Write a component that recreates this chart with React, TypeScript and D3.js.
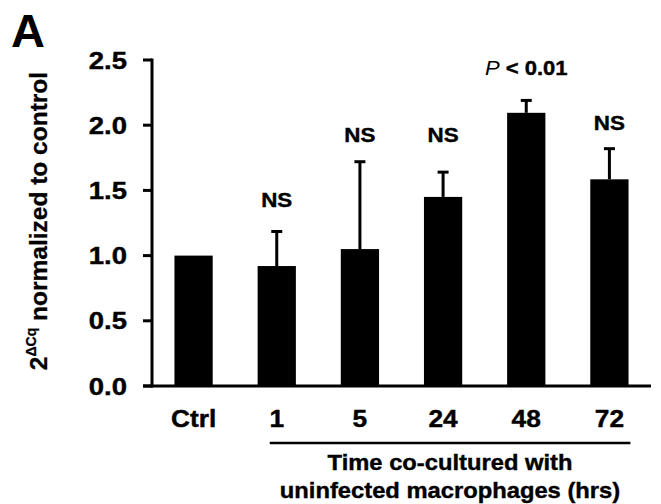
import React from 'react';
import * as d3 from 'd3';

const categories = ['Ctrl', '1', '5', '24', '48', '72'];
const means = [1.0, 0.92, 1.05, 1.45, 2.095, 1.585];
const errUp = [0, 0.265, 0.67, 0.19, 0.095, 0.235];
const sigLabels = ['', 'NS', 'NS', 'NS', 'P < 0.01', 'NS'];
const sigLevels = [0, 1.43, 1.93, 1.93, 2.44, 2.02];
const yTicks = [0, 0.5, 1.0, 1.5, 2.0, 2.5];

const W = 661;
const H = 504;
const FONT = 'Liberation Sans, Arial, Helvetica, sans-serif';

const StretchText = ({ x, y, size, sx = 1.12, anchor = 'middle', children }: any) => (
  <text
    transform={`translate(${x},${y}) scale(${sx},1)`}
    textAnchor={anchor}
    fontSize={size}
    fontWeight="bold"
    fontFamily={FONT}
    fill="#000"
    stroke="#000"
    strokeWidth={0.4}
  >
    {children}
  </text>
);

const App = () => {
  const x = d3.scaleBand<string>()
    .domain(categories)
    .range([152, 651])
    .paddingInner(0.54)
    .paddingOuter(0.27);
  const y = d3.scaleLinear().domain([0, 2.5]).range([386, 60]);
  const bw = x.bandwidth();
  const cx = (c: string) => (x(c) as number) + bw / 2;

  return (
    <svg width={W} height={H} style={{ position: 'absolute', left: 0, top: 0, background: '#fff' }}>
      {/* panel letter */}
      <text x={11} y={47} fontSize={47} fontWeight="bold" fontFamily={FONT}>A</text>

      {/* y axis title */}
      <text
        transform={`translate(47,221) rotate(-90)`}
        textAnchor="middle"
        fontSize={24.5}
        fontWeight="bold"
        fontFamily={FONT}
        stroke="#000"
        strokeWidth={0.3}
      >
        <tspan>2</tspan>
        <tspan fontSize={14} dy={-11}>ΔCq</tspan>
        <tspan dy={11}> normalized to control</tspan>
      </text>

      {/* bars */}
      {categories.map((c, i) => (
        <rect key={c} x={x(c)} y={y(means[i])} width={bw} height={y(0) - y(means[i])} fill="#000" />
      ))}

      {/* error bars (upper only) */}
      {categories.map((c, i) => errUp[i] > 0 && (
        <g key={'e' + c} stroke="#000" strokeWidth={3}>
          <line x1={cx(c)} x2={cx(c)} y1={y(means[i])} y2={y(means[i] + errUp[i])} />
          <line x1={cx(c) - 5.5} x2={cx(c) + 5.5} y1={y(means[i] + errUp[i])} y2={y(means[i] + errUp[i])} />
        </g>
      ))}

      {/* y axis */}
      <line x1={152} x2={152} y1={y(2.5) - 1.5} y2={y(0) + 1.5} stroke="#000" strokeWidth={3} />
      {yTicks.map(t => (
        <g key={t}>
          <line x1={143} x2={152} y1={y(t)} y2={y(t)} stroke="#000" strokeWidth={3} />
          <StretchText x={127} y={y(t) + 8.5} size={23.5} sx={1.17} anchor="end">{t.toFixed(1)}</StretchText>
        </g>
      ))}

      {/* x axis */}
      <line x1={143} x2={651} y1={y(0)} y2={y(0)} stroke="#000" strokeWidth={3} />
      {categories.map(c => (
        <StretchText key={'t' + c} x={cx(c)} y={427} size={23.5}>{c}</StretchText>
      ))}

      {/* significance labels */}
      {categories.map((c, i) => sigLabels[i] === '' ? null : sigLabels[i].startsWith('P') ? (
        <text
          key={'s' + c}
          transform={`translate(${cx(c)},${y(sigLevels[i]) + 7.5}) scale(1.1,1)`}
          textAnchor="middle"
          fontSize={20}
          fontFamily={FONT}
        >
          <tspan fontStyle="italic">P</tspan>
          <tspan fontWeight="bold" stroke="#000" strokeWidth={0.4}>{sigLabels[i].slice(1)}</tspan>
        </text>
      ) : (
        <StretchText key={'s' + c} x={cx(c)} y={y(sigLevels[i]) + 7.5} size={20}>{sigLabels[i]}</StretchText>
      ))}

      {/* time bracket */}
      <line x1={cx('1') - 7} x2={cx('72') + 21} y1={443} y2={443} stroke="#000" strokeWidth={2.5} />
      <StretchText x={450} y={470} size={22} sx={1.08}>Time co-cultured with</StretchText>
      <StretchText x={450} y={498} size={22} sx={1.08}>uninfected macrophages (hrs)</StretchText>
    </svg>
  );
};

export default App;
